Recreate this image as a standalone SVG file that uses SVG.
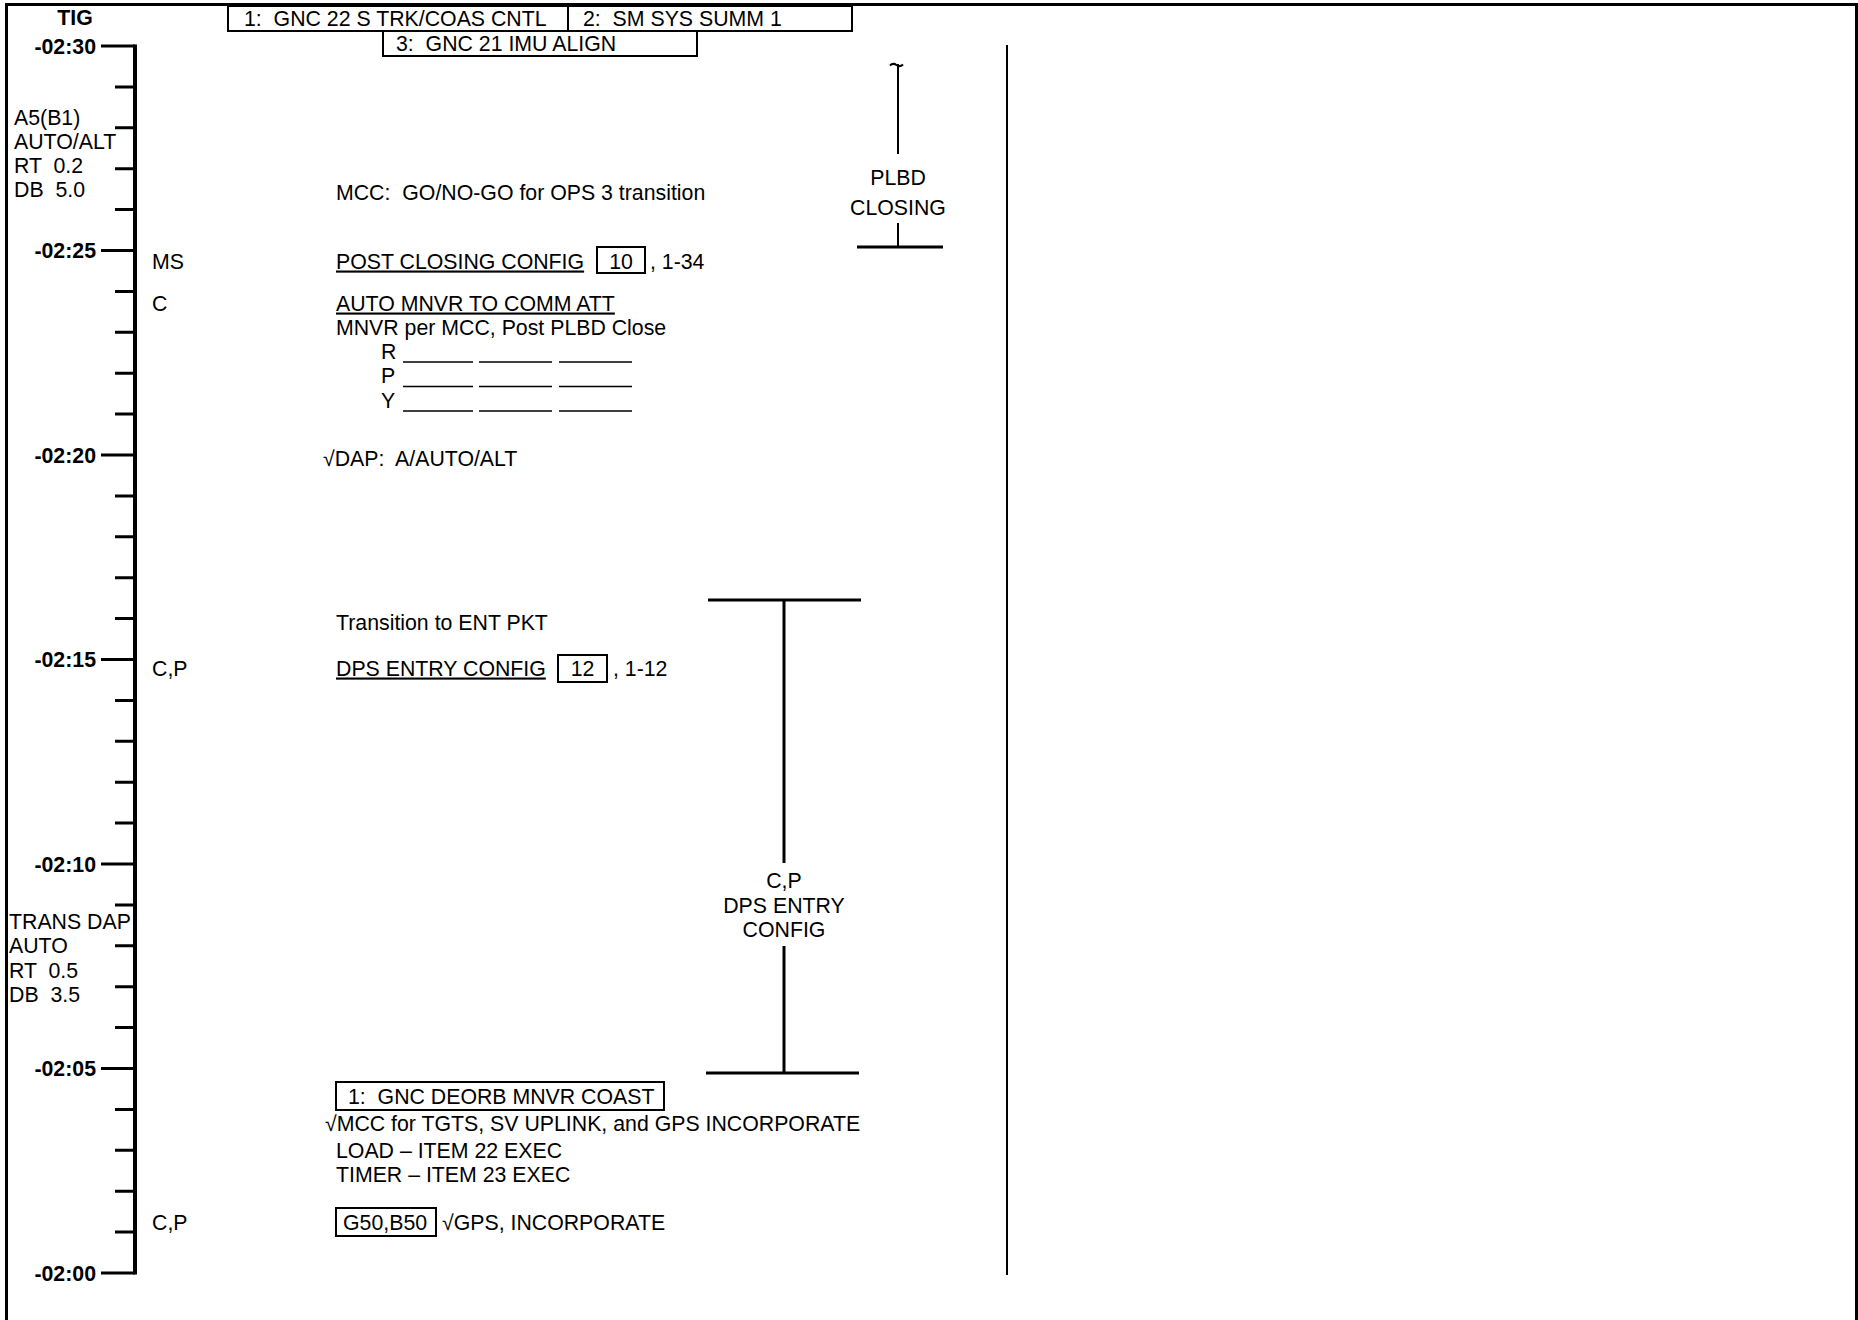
<svg xmlns="http://www.w3.org/2000/svg" width="1858" height="1320" viewBox="0 0 1858 1320" xml:space="preserve">
<style>
text { font-family: "Liberation Sans", Arial, sans-serif; font-size: 21.3px; fill: #000; white-space: pre; }
.b { font-weight: bold; }
.e { text-anchor: end; }
.m { text-anchor: middle; }
.u { text-decoration: underline; }
.box { fill: none; stroke: #000; stroke-width: 2; }
.ax { stroke: #000; stroke-width: 4; fill: none; }
.tk { stroke: #000; stroke-width: 3; fill: none; }
.br { stroke: #000; stroke-width: 3; fill: none; }
.thin { stroke: #000; stroke-width: 2; fill: none; }
.blank { stroke: #000; stroke-width: 1.5; fill: none; }
</style>
<rect x="0" y="0" width="1858" height="1320" fill="#fff"/>
<path id="frame" d="M6.5,1322 V4.5 H1856.5 V1322" fill="none" stroke="#000" stroke-width="3"/>

<g id="header">
  <rect class="box" x="228" y="6" width="340" height="25"/>
  <text x="244" y="26">1:  GNC 22 S TRK/COAS CNTL</text>
  <rect class="box" x="568" y="6" width="284" height="25"/>
  <text x="583" y="26">2:  SM SYS SUMM 1</text>
  <rect class="box" x="383" y="31" width="314" height="25"/>
  <text x="396" y="51">3:  GNC 21 IMU ALIGN</text>
</g>

<g id="timeline">
  <text class="b m" x="75" y="25">TIG</text>
  <line class="ax" x1="135" y1="44.5" x2="135" y2="1274.5"/>
  <path class="tk" d="M101,46H135 M115,86.9H135 M115,127.8H135 M115,168.7H135 M115,209.6H135 M101,250.5H135 M115,291.4H135 M115,332.3H135 M115,373.2H135 M115,414.1H135 M101,455H135 M115,495.9H135 M115,536.8H135 M115,577.7H135 M115,618.6H135 M101,659.5H135 M115,700.4H135 M115,741.3H135 M115,782.2H135 M115,823.1H135 M101,864H135 M115,904.9H135 M115,945.8H135 M115,986.7H135 M115,1027.6H135 M101,1068.5H135 M115,1109.4H135 M115,1150.3H135 M115,1191.2H135 M115,1232.1H135 M101,1273H135"/>
  <text class="b e" x="96" y="53.5">-02:30</text>
  <text class="b e" x="96" y="258">-02:25</text>
  <text class="b e" x="96" y="462.5">-02:20</text>
  <text class="b e" x="96" y="667">-02:15</text>
  <text class="b e" x="96" y="871.5">-02:10</text>
  <text class="b e" x="96" y="1076">-02:05</text>
  <text class="b e" x="96" y="1280.5">-02:00</text>
</g>

<g id="dap-notes">
  <text x="14" y="124.5">A5(B1)</text>
  <text x="14" y="148.5">AUTO/ALT</text>
  <text x="14" y="173">RT  0.2</text>
  <text x="14" y="197">DB  5.0</text>
  <text x="9" y="928.5">TRANS DAP</text>
  <text x="9" y="952.5">AUTO</text>
  <text x="9" y="977.5">RT  0.5</text>
  <text x="9" y="1001.5">DB  3.5</text>
</g>

<g id="crew">
  <text x="152" y="268.5">MS</text>
  <text x="152" y="310.5">C</text>
  <text x="152" y="675.5">C,P</text>
  <text x="152" y="1229.5">C,P</text>
</g>

<g id="step-mcc-go">
  <text x="336" y="199.5">MCC:  GO/NO-GO for OPS 3 transition</text>
</g>
<g id="step-post-closing">
  <text class="u" x="336" y="268.5">POST CLOSING CONFIG</text>
  <rect class="box" x="597" y="247" width="48" height="26"/>
  <text class="m" x="621" y="268.5">10</text>
  <text x="650" y="268.5">, 1-34</text>
</g>
<g id="step-auto-mnvr">
  <text class="u" x="336" y="310.5">AUTO MNVR TO COMM ATT</text>
  <text x="336" y="334.5">MNVR per MCC, Post PLBD Close</text>
  <text x="381" y="359">R</text>
  <text x="381" y="383">P</text>
  <text x="381" y="407.5">Y</text>
  <path class="blank" d="M403,362H473 M479,362H552 M559,362H632 M403,386.5H473 M479,386.5H552 M559,386.5H632 M403,411H473 M479,411H552 M559,411H632"/>
</g>
<g id="step-dap">
  <text x="323" y="466">√DAP:  A/AUTO/ALT</text>
</g>
<g id="step-ent-pkt">
  <text x="336" y="629.5">Transition to ENT PKT</text>
</g>
<g id="step-dps-entry">
  <text class="u" x="336" y="675.5">DPS ENTRY CONFIG</text>
  <rect class="box" x="558" y="655" width="49" height="27"/>
  <text class="m" x="582.5" y="676">12</text>
  <text x="613" y="675.5">, 1-12</text>
</g>
<g id="step-deorb">
  <rect class="box" x="336" y="1082" width="328" height="28"/>
  <text x="348" y="1103.5">1:  GNC DEORB MNVR COAST</text>
  <text x="325" y="1131">√MCC for TGTS, SV UPLINK, and GPS INCORPORATE</text>
  <text x="336" y="1157.5">LOAD – ITEM 22 EXEC</text>
  <text x="336" y="1181.5">TIMER – ITEM 23 EXEC</text>
</g>
<g id="step-gps">
  <rect class="box" x="336" y="1208" width="100" height="28"/>
  <text x="343" y="1229.5">G50,B50</text>
  <text x="442" y="1229.5">√GPS, INCORPORATE</text>
</g>

<g id="plbd-closing">
  <path class="thin" d="M890,65.5 q3,-3 6.5,-0.5 t6.5,-0.5" stroke-width="2"/>
  <line class="thin" x1="898" y1="64" x2="898" y2="154"/>
  <text class="m" x="898" y="184.5">PLBD</text>
  <text class="m" x="898" y="214.5">CLOSING</text>
  <line class="thin" x1="898" y1="223" x2="898" y2="247"/>
  <line class="br" x1="857" y1="247" x2="943" y2="247"/>
</g>

<g id="dps-entry-bracket">
  <line class="br" x1="708" y1="600" x2="861" y2="600"/>
  <line class="br" x1="784" y1="600" x2="784" y2="863"/>
  <text class="m" x="784" y="887.5">C,P</text>
  <text class="m" x="784" y="912.5">DPS ENTRY</text>
  <text class="m" x="784" y="936.5">CONFIG</text>
  <line class="br" x1="784" y1="946" x2="784" y2="1073"/>
  <line class="br" x1="706" y1="1073" x2="859" y2="1073"/>
</g>

<g id="connectors">
  <line class="thin" x1="1007" y1="45" x2="1007" y2="1275"/>
</g>
</svg>
